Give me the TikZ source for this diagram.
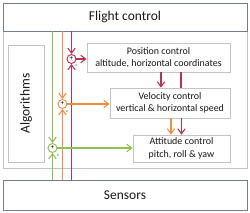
\documentclass[tikz,border=0pt]{standalone}
\usepackage{fontspec}
\setmainfont{Carlito}
\usetikzlibrary{arrows.meta,positioning}
\definecolor{fcgreen}{RGB}{146,192,78}
\definecolor{fcorange}{RGB}{242,142,58}
\definecolor{fcred}{RGB}{190,50,80}
\definecolor{fcframe}{RGB}{195,195,200}
\definecolor{fcslate}{RGB}{115,125,145}
\definecolor{fctext}{RGB}{25,25,25}

\begin{document}
\begin{tikzpicture}[x=0.3mm,y=-0.3mm,
  font=\fontsize{8.5}{10.5}\selectfont,text=fctext,
  block/.style={draw=fcframe,fill=white,align=center,inner sep=0pt,line width=0.6pt},
  bar/.style={draw=fcslate,fill=white,inner sep=0pt,line width=0.6pt,
    minimum width=73.2mm,font=\fontsize{11.5}{13}\selectfont},
  sum/.style={circle,draw,line width=0.8pt,fill=white,minimum size=2.7mm,inner sep=0pt,
    font=\fontsize{6}{6}\selectfont,text=black},
  sig/.style={line width=0.9pt,-{Straight Barb[length=1.5mm,width=2.2mm]}},
  minus/.style={font=\fontsize{6}{6}\selectfont,text=black,inner sep=0pt}]

% page and outer frame
\fill[white] (0,0) rectangle (250,213);
\useasboundingbox (0,0) rectangle (250,213);
\draw[fcframe,line width=0.6pt] (3,3) rectangle (247,168);

\node[bar,minimum height=8.4mm] (flight) at (125,17) {Flight control};
\node[bar,minimum height=9mm] (sensors) at (125,195) {Sensors};
\node[block,minimum width=10.8mm,minimum height=35.1mm,font=\fontsize{11.5}{13}\selectfont] (algo) at (26,103.5) {\rotatebox{90}{Algorithms}};

\node[block,minimum width=42.9mm,minimum height=8.7mm] (posctl) at (158.5,57.5) {Position control\\altitude, horizontal coordinates};
\node[block,minimum width=36mm,minimum height=9mm] (velctl) at (170,103) {Velocity control\\vertical \& horizontal speed};
\node[block,minimum width=29.1mm,minimum height=8.1mm] (attctl) at (181.5,148.5) {Attitude control\\pitch, roll \& yaw};

\node[sum,draw=fcred] (sumpos) at (71.5,59) {+};
\node[sum,draw=fcorange] (sumvel) at (62.5,104) {+};
\node[sum,draw=fcgreen] (sumatt) at (52.5,148) {+};

% position loop
\draw[sig,fcred] (sumpos |- flight.south) -- (sumpos);
\draw[sig,fcred] (sumpos |- sensors.north) -- (sumpos);
\draw[sig,fcred] (sumpos) -- (sumpos -| posctl.west);
\node[minus] at ([xshift=1.5mm,yshift=-2.2mm]sumpos.center) {-};

% velocity loop
\draw[sig,fcorange] (sumvel |- flight.south) -- (sumvel);
\draw[sig,fcorange] (sumvel |- sensors.north) -- (sumvel);
\draw[sig,fcorange] (sumvel) -- (sumvel -| velctl.west);
\node[minus] at ([xshift=1.3mm,yshift=-2.5mm]sumvel.center) {-};

% attitude loop
\draw[sig,fcgreen] (sumatt |- flight.south) -- (sumatt);
\draw[sig,fcgreen] (sumatt |- sensors.north) -- (sumatt);
\draw[sig,fcgreen] (sumatt) -- (sumatt -| attctl.west);
\node[minus] at ([xshift=1.6mm,yshift=-2.5mm]sumatt.center) {-};

% cascade between the controllers
\draw[sig,fcred] ([xshift=0.75mm]posctl.south) -- ([xshift=0.75mm]posctl.south |- velctl.north);
\draw[line width=0.9pt,fcred] ([xshift=6.75mm]posctl.south) -- ([xshift=6.75mm]posctl.south |- velctl.north);
\draw[sig,fcred] ([xshift=3.45mm]velctl.south) -- ([xshift=3.45mm]velctl.south |- attctl.north);
\draw[sig,fcorange] ([xshift=0.3mm]velctl.south) -- ([xshift=0.3mm]velctl.south |- attctl.north);
\end{tikzpicture}
\end{document}
